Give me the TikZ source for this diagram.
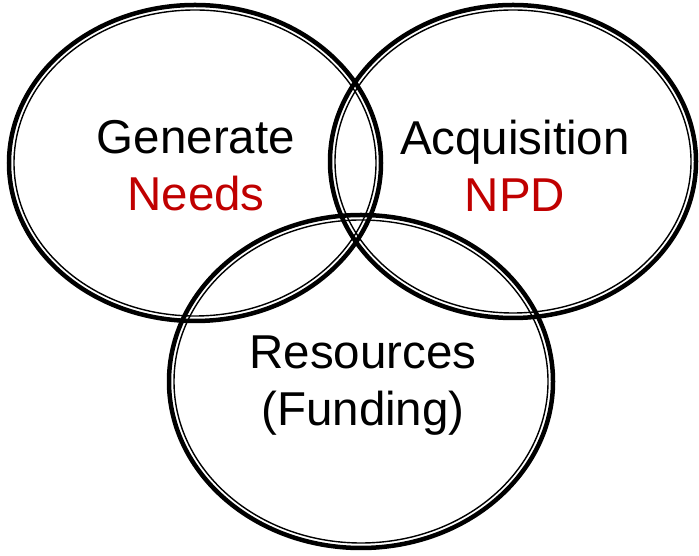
\documentclass[tikz,border=0pt]{standalone}
\usepackage{fontspec}
\setmainfont{Liberation Sans}
\usepackage{xcolor}
\definecolor{needred}{RGB}{192,0,0}

\begin{document}
\begin{tikzpicture}[x=1bp, y=1bp,
  ring_outer/.style={line width=4.5bp},
  ring_inner/.style={line width=1.4bp},
  label_text/.style={font=\fontsize{47.5bp}{57bp}\selectfont, align=center, inner sep=0pt}
]
  \useasboundingbox (0,0) rectangle (699,556);

  % Generate ring
  \draw[ring_outer] (195,393) ellipse [x radius=186, y radius=158];
  \draw[ring_inner] (195,393) ellipse [x radius=181, y radius=153];

  % Acquisition ring
  \draw[ring_outer] (513,394.5) ellipse [x radius=183, y radius=156.5];
  \draw[ring_inner] (513,394.5) ellipse [x radius=178, y radius=151.5];

  % Resources ring
  \draw[ring_outer] (361,174.5) ellipse [x radius=192, y radius=166.5];
  \draw[ring_inner] (361,174.5) ellipse [x radius=187, y radius=161.5];

  % Labels
  \node (gen) [label_text] at (196,390) {Generate \\ \textcolor{needred}{Needs}};
  \node (acq) [label_text] at (515,390) {Acquisition \\ \textcolor{needred}{NPD}};
  \node (res) [label_text] at (363,170) {Resources \\ (Funding)};

\end{tikzpicture}
\end{document}
